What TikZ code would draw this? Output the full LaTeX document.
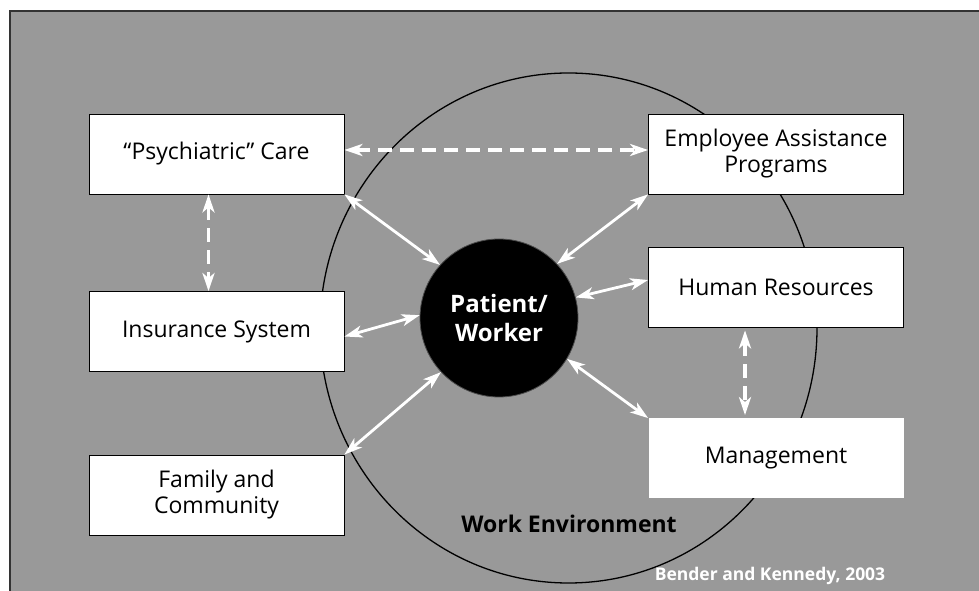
\documentclass[tikz,border=0pt]{standalone}
\usepackage{fontspec}
\setmainfont{Open Sans}
\usetikzlibrary{arrows.meta,calc}
\definecolor{bggray}{HTML}{999999}
\tikzset{
  box/.style={draw=black, line width=0.8pt, fill=white, minimum width=255pt, minimum height=80pt, align=center, font=\fontsize{23}{26}\selectfont, inner sep=0pt},
  link/.style={white, line width=2.8pt, {Stealth[length=18pt,width=12pt,inset=5pt]}-{Stealth[length=18pt,width=12pt,inset=5pt]}},
  dlink/.style={link, line width=3.6pt, dash pattern=on 14pt off 8pt}
}
\begin{document}
\begin{tikzpicture}[x=1pt,y=1pt]
\useasboundingbox (0,0) rectangle (979,591);
\begin{scope}
\clip (0,0) rectangle (979,591);
\fill[white] (0,0) rectangle (979,591);
\draw[fill=bggray, draw=black!80, line width=1.2pt] (10,-10) rectangle (1000,580);
\end{scope}
\draw[black, line width=1.3pt] (568.5,263) ellipse [x radius=248.5, y radius=255];
\node[box] (psy) at (216.5,437) {“Psychiatric” Care};
\node[box] (ins) at (216.5,259.5) {Insurance System};
\node[box] (fam) at (216.5,96) {Family and\\Community};
\node[box] (eap) at (776,437) {Employee Assistance\\Programs};
\node[box] (hr) at (776,304) {Human Resources};
\node[box, draw=none] (mgmt) at (776,132.5) {Management};
\node[circle, fill=black, draw=black!70, line width=0.8pt, minimum size=158pt, inner sep=0pt, text=white, align=center, font=\bfseries\fontsize{24}{29}\selectfont] (pw) at (499,273) {Patient/\\Worker};
\node[font=\bfseries\fontsize{23}{26}\selectfont] (we) at (569,67) {Work Environment};
\node[text=white, font=\bfseries\fontsize{17.5}{20}\selectfont] (cite) at (770,15) {Bender and Kennedy, 2003};
% dashed links
\draw[dlink] ([yshift=4pt]psy.east) -- ([yshift=4pt]eap.west);
\draw[dlink] ([xshift=-8pt]psy.south) -- ([xshift=-8pt]ins.north);
\draw[dlink] ([xshift=-31pt,yshift=-3pt]hr.south) -- ([xshift=-31pt,yshift=3pt]mgmt.north);
% solid links
\draw[link] (psy.south east) -- (pw.138);
\draw[link] (eap.south west) -- (pw.43);
\draw[link] ([yshift=7pt]hr.west) -- (pw.15);
\draw[link] ([yshift=-5pt]ins.east) -- (pw.178);
\draw[link] (fam.north east) -- (pw.223);
\draw[link] (mgmt.north west) -- (pw.329);
\end{tikzpicture}
\end{document}
